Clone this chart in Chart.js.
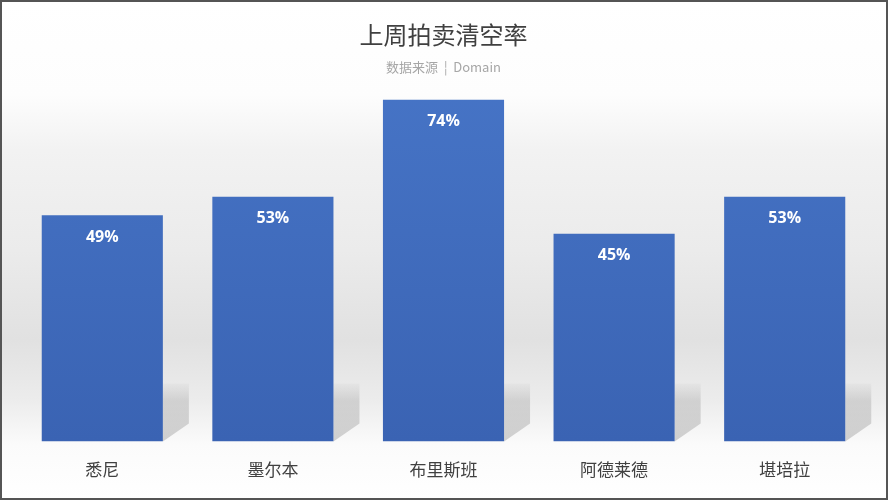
<!DOCTYPE html>
<html>
<head>
<meta charset="utf-8">
<script src="https://cdn.jsdelivr.net/npm/chart.js@4"></script>
<style>
  html, body { margin: 0; padding: 0; background: #fff; }
  #wrap { width: 888px; height: 500px; position: relative; }
</style>
</head>
<body>
<div id="wrap"><canvas id="chart"></canvas></div>
<script>
// data
const cities = ['悉尼', '墨尔本', '布里斯班', '阿德莱德', '堪培拉'];
const clearanceRates = [49, 53, 74, 45, 53];

const FONT = '"Noto Sans CJK SC", "Noto Sans", sans-serif';

// grey band behind the plot + thin dark frame round the picture
const backdrop = {
    id: 'backdrop',
    beforeDraw(chart) {
        const { ctx, width, height } = chart;
        ctx.save();
        const g = ctx.createLinearGradient(0, 0, 0, height);
        g.addColorStop(0.00, '#ffffff');
        g.addColorStop(0.19, '#fdfdfd');
        g.addColorStop(0.30, '#f2f2f2');
        g.addColorStop(0.50, '#ebebeb');
        g.addColorStop(0.68, '#e1e1e1');
        g.addColorStop(0.80, '#ececec');
        g.addColorStop(0.89, '#fbfbfb');
        g.addColorStop(1.00, '#ffffff');
        ctx.fillStyle = g;
        ctx.fillRect(0, 0, width, height);
        ctx.restore();
    },
    afterDraw(chart) {
        const { ctx, width, height } = chart;
        ctx.save();
        ctx.strokeStyle = '#555';
        ctx.lineWidth = 2;
        ctx.strokeRect(1, 1, width - 2, height - 2);
        ctx.restore();
    },
};

// slanted floor shadow behind the right side of every bar
const barShadows = {
    id: 'barShadows',
    beforeDatasetsDraw(chart) {
        const { ctx } = chart;
        const meta = chart.getDatasetMeta(0);
        ctx.save();
        meta.data.forEach(bar => {
            const right = bar.x + bar.width / 2;
            const base = bar.base;
            const g = ctx.createLinearGradient(0, base - 58, 0, base);
            g.addColorStop(0, 'rgba(110,110,110,0.04)');
            g.addColorStop(0.3, 'rgba(110,110,110,0.22)');
            g.addColorStop(1, 'rgba(110,110,110,0.30)');
            ctx.fillStyle = g;
            ctx.beginPath();
            ctx.moveTo(right, base - 58);
            ctx.lineTo(right + 26, base - 58);
            ctx.lineTo(right + 26, base - 18);
            ctx.lineTo(right, base);
            ctx.closePath();
            ctx.fill();
        });
        ctx.restore();
    },
};

// percentage inside the top of each bar
const valueLabels = {
    id: 'valueLabels',
    afterDatasetsDraw(chart) {
        const { ctx } = chart;
        const meta = chart.getDatasetMeta(0);
        ctx.save();
        ctx.fillStyle = '#ffffff';
        ctx.font = 'bold 16px "Open Sans", "Noto Sans", sans-serif';
        ctx.textAlign = 'center';
        ctx.textBaseline = 'middle';
        meta.data.forEach((bar, i) => {
            ctx.fillText(clearanceRates[i] + '%', bar.x, bar.y + 22);
        });
        ctx.restore();
    },
};

function barFill(context) {
    const { chart } = context;
    const area = chart.chartArea;
    if (!area) return '#4472c4';
    const g = chart.ctx.createLinearGradient(0, area.top, 0, area.bottom);
    g.addColorStop(0, '#4674c6');
    g.addColorStop(1, '#3a63b3');
    return g;
}

new Chart(document.getElementById('chart'), {
    type: 'bar',
    data: {
        labels: cities,
        datasets: [{
            data: clearanceRates,
            backgroundColor: barFill,
            borderWidth: 0,
            barPercentage: 0.71,
            categoryPercentage: 1,
        }],
    },
    options: {
        responsive: true,
        maintainAspectRatio: false,
        animation: false,
        layout: { padding: { left: 17, right: 18, top: 0, bottom: 2 } },
        plugins: {
            legend: { display: false },
            tooltip: { enabled: false },
            title: {
                display: true,
                text: '上周拍卖清空率',
                color: '#404040',
                font: { family: FONT, size: 24, weight: 'normal' },
                padding: { top: 20, bottom: 10 },
            },
            subtitle: {
                display: true,
                text: '数据来源  ¦  Domain',
                color: '#a6a6a6',
                font: { family: FONT, size: 13 },
                padding: { top: 0, bottom: 7 },
            },
        },
        scales: {
            x: {
                grid: { display: false, drawTicks: false },
                border: { display: false },
                ticks: { color: '#404040', font: { family: FONT, size: 17 }, padding: 18 },
            },
            y: {
                display: false,
                min: 0,
                max: 78,
            },
        },
    },
    plugins: [backdrop, barShadows, valueLabels],
});
</script>
</body>
</html>
